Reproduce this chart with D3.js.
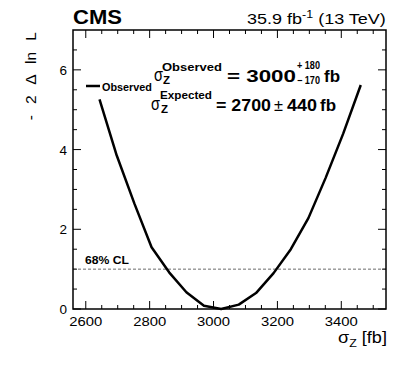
<!DOCTYPE html>
<html lang="en">
<script src="https://d3js.org/d3.v7.min.js"></script>
<style>
  body { margin: 0; background: white; }
  svg text { font-family: "Liberation Sans", Arial, sans-serif; fill: black; }
</style>
<body>
<svg width="407" height="387" id="chart"></svg>
<script>
  // scan points of the observed likelihood curve
  var sigmaZ = [2643, 2697, 2752, 2806, 2861, 2915, 2970, 3024, 3079, 3133, 3188, 3242, 3297, 3351, 3406, 3461];
  var nll = [5.26, 3.85, 2.65, 1.55, 0.92, 0.42, 0.08, 0.0, 0.11, 0.40, 0.90, 1.50, 2.28, 3.29, 4.40, 5.62];
  var xTicks = [2600, 2800, 3000, 3200, 3400];
  var yTicks = [0, 2, 4, 6];
  var clLevel = 1;

  var svg = d3.select('#chart');
  var mLeft = 73, mRight = 386, mTop = 30, mBottom = 309;

  var x = d3.scaleLinear().domain([2560, 3540]).range([mLeft, mRight]);
  var y = d3.scaleLinear().domain([0, 7]).range([mBottom, mTop]);

  var xMinor = d3.range(2600, 3540, 50);
  var yMinor = d3.range(0, 7, 0.5);

  // text helper: stretch horizontally so the text covers the given width
  function put(px, py, str, size, bold, width, anchor) {
    var t = svg.append('text').attr('x', px).attr('y', py)
      .attr('text-anchor', anchor || 'start')
      .style('font-size', size + 'px')
      .style('font-weight', bold ? 'bold' : 'normal');
    if (typeof str === 'string') t.text(str); else str(t);
    if (width) {
      var w = t.node().getComputedTextLength();
      var sx = width / w;
      t.attr('transform', 'translate(' + px + ',0) scale(' + sx + ',1) translate(' + (-px) + ',0)');
    }
    return t;
  }

  // ticks (inside the frame, on all four sides)
  function xTickLen(d) { return xTicks.indexOf(d) >= 0 ? 8 : 4; }
  function yTickLen(d) { return yTicks.indexOf(d) >= 0 ? 8 : 4; }

  var ticks = svg.append('g').attr('stroke', 'black').attr('stroke-width', 1);
  xMinor.forEach(function(d) {
    ticks.append('line').attr('x1', x(d)).attr('x2', x(d)).attr('y1', mBottom).attr('y2', mBottom - xTickLen(d));
    ticks.append('line').attr('x1', x(d)).attr('x2', x(d)).attr('y1', mTop).attr('y2', mTop + xTickLen(d));
  });
  yMinor.forEach(function(d) {
    ticks.append('line').attr('y1', y(d)).attr('y2', y(d)).attr('x1', mLeft).attr('x2', mLeft + yTickLen(d));
    ticks.append('line').attr('y1', y(d)).attr('y2', y(d)).attr('x1', mRight).attr('x2', mRight - yTickLen(d));
  });

  // tick labels
  xTicks.forEach(function(d) { put(x(d), mBottom + 17, String(d), 13, false, 33, 'middle'); });
  yTicks.forEach(function(d) { put(mLeft - 6, y(d) + 5, String(d), 13.5, false, 0, 'end'); });

  // 68% CL line
  svg.append('line')
    .attr('x1', mLeft).attr('x2', mRight)
    .attr('y1', y(clLevel)).attr('y2', y(clLevel))
    .attr('stroke', '#444').attr('stroke-width', 0.8)
    .attr('stroke-dasharray', '3,2');
  put(85, y(clLevel) - 5, '68% CL', 11, true, 44);

  // curve
  var line = d3.line()
    .x(function(d, i) { return x(sigmaZ[i]); })
    .y(function(d) { return y(d); });
  svg.append('path').datum(nll)
    .attr('d', line)
    .attr('fill', 'none')
    .attr('stroke', 'black')
    .attr('stroke-width', 2.5)
    .attr('stroke-linejoin', 'round');

  // frame
  svg.append('rect').attr('x', mLeft).attr('y', mTop)
    .attr('width', mRight - mLeft).attr('height', mBottom - mTop)
    .attr('fill', 'none').attr('stroke', 'black').attr('stroke-width', 1.5);

  // header
  put(mLeft, 24, 'CMS', 20, true, 49);
  put(247, 24, function(t) {
    t.append('tspan').text('35.9 fb');
    t.append('tspan').attr('dy', -6).style('font-size', '10px').text('-1');
    t.append('tspan').attr('dy', 6).text(' (13 TeV)');
  }, 14.5, false, 139);

  // axis titles
  svg.append('text')
    .attr('transform', 'translate(36,' + (mTop + 2) + ') rotate(-90)')
    .attr('text-anchor', 'end')
    .style('font-size', '15.5px')
    .style('word-spacing', '7px')
    .text('- 2 \u0394 ln L');

  put(338, 343, function(t) {
    t.append('tspan').text('\u03c3');
    t.append('tspan').attr('dy', 4).style('font-size', '11px').text('Z');
    t.append('tspan').attr('dy', -4).text(' [fb]');
  }, 16, false, 49);

  // legend
  svg.append('line').attr('x1', 86).attr('x2', 100).attr('y1', 86).attr('y2', 86)
    .attr('stroke', 'black').attr('stroke-width', 2.5);
  put(102, 91, 'Observed', 11.5, true, 50);

  // results
  put(154, 81, '\u03c3', 18, false, 9);
  put(162, 71, 'Observed', 11.5, true, 60);
  put(163, 84, 'Z', 11.5, true, 7);
  put(227, 82, '= 3000', 17, true, 69);
  put(297, 69, '+ 180', 10.5, true, 23);
  put(297, 84, '\u2212 170', 10.5, true, 23);
  put(324, 82, 'fb', 17, true, 16);

  put(151, 110, '\u03c3', 18, false, 9);
  put(160, 99, 'Expected', 11.5, true, 52);
  put(161, 113, 'Z', 11.5, true, 7);
  put(216, 111, '= 2700', 17, true, 55);
  put(274, 111, '\u00b1', 17, false, 9);
  put(287, 111, '440', 17, true, 30);
  put(320, 111, 'fb', 17, true, 16);
</script>
</body>
</html>
